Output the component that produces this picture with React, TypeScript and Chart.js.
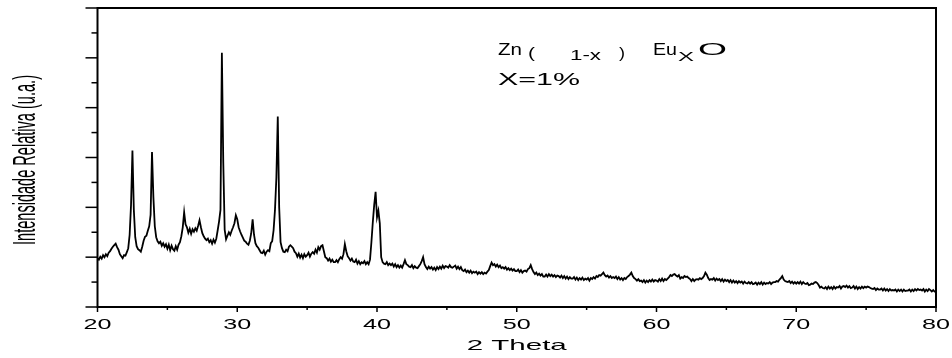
import React, { useEffect, useRef } from "react";
import { Chart, registerables } from "chart.js";

Chart.register(...registerables);

// 2-theta grid of the scan (degrees)
const thetaStart = 20;
const thetaStep = 0.1;

// Relative intensity (u.a.), one value per 0.1 degree from 20.0 to 80.0
const intensity: number[] = [
  // 20
  0.98, 0.95, 1.01, 0.97, 1.04, 1.0, 1.06, 1.02, 1.09, 1.12,
  // 21
  1.17, 1.21, 1.24, 1.27, 1.2, 1.15, 1.06, 1.02, 0.98, 1.04,
  // 22
  1.03, 1.1, 1.18, 1.45, 2.05, 3.14, 1.95, 1.4, 1.22, 1.16,
  // 23
  1.14, 1.11, 1.21, 1.33, 1.41, 1.43, 1.53, 1.62, 1.85, 3.11,
  // 24
  2.2, 1.62, 1.4, 1.32, 1.28, 1.31, 1.23, 1.28, 1.21, 1.26,
  // 25
  1.17, 1.25, 1.14, 1.23, 1.16, 1.13, 1.22, 1.15, 1.25, 1.3,
  // 26
  1.42, 1.6, 1.9, 1.66, 1.6, 1.49, 1.57, 1.47, 1.56, 1.51,
  // 27
  1.58, 1.53, 1.63, 1.74, 1.6, 1.48, 1.42, 1.37, 1.34, 1.37,
  // 28
  1.3, 1.34, 1.27, 1.35, 1.29, 1.37, 1.54, 1.72, 1.95, 5.1,
  // 29
  2.9, 1.55, 1.36, 1.43, 1.5, 1.45, 1.53, 1.6, 1.68, 1.84,
  // 30
  1.76, 1.6, 1.52, 1.45, 1.39, 1.33, 1.31, 1.27, 1.25, 1.33,
  // 31
  1.48, 1.76, 1.45, 1.28, 1.22, 1.19, 1.14, 1.09, 1.08, 1.13,
  // 32
  1.05, 1.11, 1.14, 1.12, 1.28, 1.32, 1.54, 1.95, 2.6, 3.82,
  // 33
  2.0, 1.3, 1.18, 1.11, 1.1, 1.15, 1.12, 1.21, 1.24, 1.21,
  // 34
  1.18, 1.11, 1.08, 1.01, 1.07, 0.99, 1.05, 0.98, 1.06, 1.01,
  // 35
  1.04, 1.09, 1.01, 1.07, 1.1, 1.07, 1.15, 1.09, 1.2, 1.15,
  // 36
  1.22, 1.24, 1.12, 1.0, 0.98, 0.93, 0.97, 0.91, 0.95, 0.9,
  // 37
  0.9, 0.94, 0.9, 0.96, 1.0, 0.97, 1.06, 1.26, 1.12, 1.02,
  // 38
  0.98, 0.93, 0.97, 0.91, 0.9, 0.95, 0.87, 0.92, 0.86, 0.9,
  // 39
  0.88, 0.92, 0.86, 0.9, 0.86, 0.95, 1.3, 1.7, 2.05, 2.31,
  // 40
  1.8, 1.93, 1.68, 1.0, 0.9, 0.87, 0.86, 0.9, 0.84, 0.87,
  // 41
  0.84, 0.87, 0.81, 0.86, 0.8, 0.84, 0.79, 0.83, 0.79, 0.86,
  // 42
  0.94, 0.86, 0.84, 0.81, 0.8, 0.84, 0.78, 0.82, 0.79, 0.78,
  // 43
  0.82, 0.86, 0.92, 1.0, 0.86, 0.8, 0.76, 0.81, 0.77, 0.8,
  // 44
  0.75, 0.79, 0.74, 0.8, 0.76, 0.81, 0.77, 0.83, 0.78, 0.82,
  // 45
  0.81, 0.79, 0.84, 0.8, 0.79, 0.81, 0.83, 0.77, 0.81, 0.76,
  // 46
  0.8, 0.74, 0.72, 0.75, 0.7, 0.73, 0.69, 0.73, 0.68, 0.71,
  // 47
  0.69, 0.71, 0.66, 0.7, 0.67, 0.7, 0.66, 0.69, 0.67, 0.71,
  // 48
  0.74, 0.82, 0.89, 0.84, 0.86, 0.81, 0.85, 0.8, 0.83, 0.78,
  // 49
  0.8, 0.77, 0.8, 0.75, 0.78, 0.74, 0.77, 0.73, 0.76, 0.72,
  // 50
  0.72, 0.75, 0.7, 0.74, 0.69, 0.72, 0.73, 0.71, 0.76, 0.78,
  // 51
  0.84, 0.76, 0.7, 0.66, 0.69, 0.64, 0.67, 0.63, 0.66, 0.61,
  // 52
  0.61, 0.65, 0.61, 0.66, 0.62, 0.65, 0.61, 0.64, 0.6, 0.63,
  // 53
  0.62, 0.59, 0.63, 0.58, 0.62, 0.57, 0.61, 0.56, 0.6, 0.57,
  // 54
  0.57, 0.6, 0.55, 0.59, 0.54, 0.58, 0.55, 0.59, 0.54, 0.57,
  // 55
  0.55, 0.58, 0.53, 0.58, 0.56, 0.6, 0.57, 0.62, 0.6, 0.64,
  // 56
  0.63, 0.66, 0.69, 0.64, 0.61, 0.63, 0.59, 0.62, 0.58, 0.6,
  // 57
  0.58, 0.61, 0.56, 0.6, 0.55, 0.58, 0.54, 0.58, 0.56, 0.6,
  // 58
  0.62, 0.65, 0.69, 0.62, 0.58, 0.56, 0.53, 0.56, 0.52, 0.53,
  // 59
  0.5, 0.54, 0.49, 0.53, 0.5, 0.54, 0.51, 0.55, 0.51, 0.54,
  // 60
  0.53, 0.51, 0.56, 0.52, 0.57, 0.52, 0.56, 0.54, 0.57, 0.6,
  // 61
  0.64, 0.62, 0.65, 0.66, 0.63, 0.61, 0.64, 0.57, 0.6, 0.58,
  // 62
  0.62, 0.6, 0.61, 0.58, 0.56, 0.52, 0.56, 0.52, 0.55, 0.56,
  // 63
  0.55, 0.58, 0.56, 0.58, 0.62, 0.69, 0.65, 0.58, 0.54, 0.56,
  // 64
  0.55, 0.58, 0.53, 0.57, 0.54, 0.56, 0.52, 0.56, 0.51, 0.55,
  // 65
  0.52, 0.54, 0.5, 0.54, 0.49, 0.53, 0.49, 0.52, 0.48, 0.52,
  // 66
  0.49, 0.51, 0.47, 0.51, 0.48, 0.47, 0.5, 0.47, 0.5, 0.46,
  // 67
  0.47, 0.49, 0.45, 0.49, 0.46, 0.5, 0.45, 0.49, 0.46, 0.48,
  // 68
  0.47, 0.5, 0.46, 0.49, 0.5, 0.5, 0.52, 0.51, 0.55, 0.58,
  // 69
  0.62, 0.55, 0.52, 0.51, 0.5, 0.52, 0.48, 0.51, 0.47, 0.5,
  // 70
  0.47, 0.5, 0.47, 0.51, 0.46, 0.5, 0.47, 0.46, 0.48, 0.44,
  // 71
  0.45, 0.47, 0.46, 0.49, 0.5, 0.48, 0.44, 0.39, 0.41, 0.38,
  // 72
  0.37, 0.4, 0.36, 0.41, 0.37, 0.4, 0.36, 0.41, 0.37, 0.4,
  // 73
  0.39, 0.42, 0.37, 0.41, 0.42, 0.4, 0.43, 0.39, 0.42, 0.38,
  // 74
  0.39, 0.42, 0.37, 0.41, 0.36, 0.4, 0.37, 0.41, 0.38, 0.41,
  // 75
  0.39, 0.41, 0.4, 0.38, 0.37, 0.36, 0.38, 0.34, 0.37, 0.35,
  // 76
  0.35, 0.37, 0.33, 0.37, 0.33, 0.36, 0.32, 0.36, 0.33, 0.34,
  // 77
  0.33, 0.35, 0.31, 0.35, 0.32, 0.35, 0.31, 0.35, 0.32, 0.33,
  // 78
  0.33, 0.35, 0.31, 0.35, 0.32, 0.36, 0.33, 0.36, 0.34, 0.35,
  // 79
  0.33, 0.36, 0.31, 0.35, 0.32, 0.36, 0.34, 0.31, 0.34, 0.31,
  // 80
  0.3,
];

const xMajorTicks = [20, 30, 40, 50, 60, 70, 80];
const xMinorTicks = [25, 35, 45, 55, 65, 75];
const yMajorTicks = [0, 1, 2, 3, 4, 5, 6];
const yMinorTicks = [0.5, 1.5, 2.5, 3.5, 4.5, 5.5];
const xTitle = "2 Theta";
const yTitle = "Intensidade Relativa (u.a.)";
const sampleLabel = "X=1%";

const FONT = '"Liberation Sans", Arial, Helvetica, sans-serif';

function fitText(
  ctx: CanvasRenderingContext2D,
  text: string,
  left: number,
  width: number,
  baseline: number,
  size: number
) {
  ctx.font = `${size}px ${FONT}`;
  const w = ctx.measureText(text).width || 1;
  ctx.save();
  ctx.translate(left, baseline);
  ctx.scale(width / w, 1);
  ctx.textAlign = "left";
  ctx.textBaseline = "alphabetic";
  ctx.fillText(text, 0, 0);
  ctx.restore();
}

const framePlugin = {
  id: "originFrame",
  afterDraw(chart: any) {
    const { ctx, chartArea: a, scales } = chart;
    const xs = scales.x;
    const ys = scales.y;
    ctx.save();
    ctx.strokeStyle = "#000";
    ctx.fillStyle = "#000";

    const seg = (x1: number, y1: number, x2: number, y2: number) => {
      ctx.beginPath();
      ctx.moveTo(x1, y1);
      ctx.lineTo(x2, y2);
      ctx.stroke();
    };

    // ticks
    ctx.lineWidth = 1.5;
    yMajorTicks.forEach((v) => {
      const p = ys.getPixelForValue(v);
      seg(a.left - 12, p, a.left, p);
    });
    yMinorTicks.forEach((v) => {
      const p = ys.getPixelForValue(v);
      seg(a.left - 6, p, a.left, p);
    });
    xMajorTicks.forEach((v) => {
      const p = xs.getPixelForValue(v);
      seg(p, a.bottom, p, a.bottom + 5);
    });
    xMinorTicks.forEach((v) => {
      const p = xs.getPixelForValue(v);
      seg(p, a.bottom, p, a.bottom + 3);
    });

    // frame
    ctx.lineWidth = 2;
    ctx.strokeRect(a.left, a.top, a.right - a.left, a.bottom - a.top);

    // x tick labels
    xMajorTicks.forEach((v) => {
      const p = xs.getPixelForValue(v);
      fitText(ctx, String(v), p - 14, 28, a.bottom + 21.5, 14);
    });

    // x title
    const xc = (a.left + a.right) / 2;
    fitText(ctx, xTitle, xc - 50, 100, a.bottom + 43, 15);

    // y title (rotated, condensed look)
    ctx.font = `15px ${FONT}`;
    const tw = ctx.measureText(yTitle).width || 1;
    const yc = (a.top + a.bottom) / 2 + 2.5;
    ctx.save();
    ctx.translate(35, yc + 85);
    ctx.rotate(-Math.PI / 2);
    ctx.scale(170 / tw, 2.05);
    ctx.textAlign = "left";
    ctx.textBaseline = "alphabetic";
    ctx.fillText(yTitle, 0, 0);
    ctx.restore();

    // annotation: Zn( 1-x ) EuxO / X=1%
    fitText(ctx, "Zn", 498, 24, 55, 17);
    fitText(ctx, "(", 528, 7, 58, 14);
    fitText(ctx, "1-x", 570, 31, 59.5, 14);
    fitText(ctx, ")", 619, 6, 58, 14);
    fitText(ctx, "Eu", 653, 24, 54.5, 16);
    fitText(ctx, "X", 678, 16, 60.8, 13);
    fitText(ctx, "O", 698, 29, 54.5, 16);
    fitText(ctx, sampleLabel, 498, 82, 85, 16);

    ctx.restore();
  },
};

export default function App() {
  const canvasRef = useRef<HTMLCanvasElement | null>(null);

  useEffect(() => {
    const canvas = canvasRef.current;
    if (!canvas) return;
    const points = intensity.map((y, i) => ({
      x: Math.round((thetaStart + i * thetaStep) * 10) / 10,
      y,
    }));
    const chart = new Chart(canvas, {
      type: "line",
      data: {
        datasets: [
          {
            data: points,
            borderColor: "#000",
            borderWidth: 1.8,
            pointRadius: 0,
            tension: 0,
            fill: false,
          },
        ],
      },
      options: {
        responsive: false,
        animation: false,
        devicePixelRatio: 1,
        layout: { padding: { top: 8, right: 16, left: 0, bottom: 0 } },
        plugins: {
          legend: { display: false },
          tooltip: { enabled: false },
          title: { display: false },
        },
        scales: {
          x: {
            type: "linear",
            min: 20,
            max: 80,
            grid: { display: false },
            border: { display: false },
            ticks: { display: false },
            afterFit: (s: any) => {
              s.height = 51;
            },
          },
          y: {
            type: "linear",
            min: 0,
            max: 6,
            grid: { display: false },
            border: { display: false },
            ticks: { display: false },
            afterFit: (s: any) => {
              s.width = 97.5;
            },
          },
        },
      } as any,
      plugins: [framePlugin],
    });
    return () => chart.destroy();
  }, []);

  return (
    <div style={{ position: "absolute", left: 0, top: 0, width: 952, height: 358, background: "#fff" }}>
      <canvas ref={canvasRef} width={952} height={358} style={{ width: 952, height: 358, display: "block" }} />
    </div>
  );
}
